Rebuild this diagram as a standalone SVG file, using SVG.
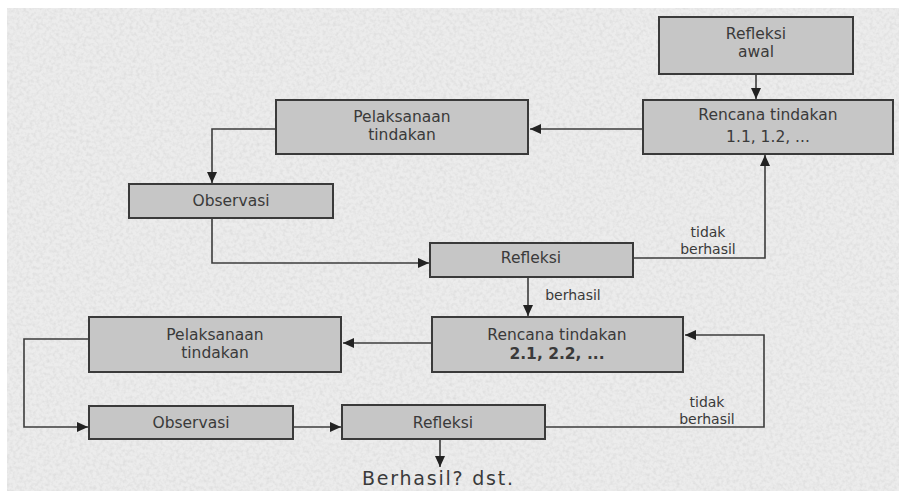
<svg xmlns="http://www.w3.org/2000/svg" width="899" height="491" viewBox="0 0 899 491">
<defs>
<filter id="noise" x="0" y="0" width="100%" height="100%">
<feTurbulence type="fractalNoise" baseFrequency="0.3" numOctaves="2" seed="7"/>
<feColorMatrix type="matrix" values="0 0 0 0 0.6  0 0 0 0 0.6  0 0 0 0 0.6  0.9 0 0 0 -0.35"/>
</filter>
<marker id="ah" markerUnits="userSpaceOnUse" markerWidth="12" markerHeight="10" refX="11" refY="5" orient="auto">
<path d="M0,0 L11,5 L0,10 Z" fill="#222"/>
</marker>
<style>
.box{fill:#c6c6c6;stroke:#3a3a3a;stroke-width:2}
.t{font-family:"DejaVu Sans",Verdana,sans-serif;font-size:15.5px;fill:#3a3a3a;text-anchor:middle}
.l{font-family:"DejaVu Sans",Verdana,sans-serif;font-size:14px;fill:#3a3a3a;text-anchor:middle}
.b{font-weight:bold}
.c{fill:none;stroke:#3c3c3c;stroke-width:1.6;marker-end:url(#ah)}
</style>
</defs>
<rect x="0" y="0" width="899" height="491" fill="#ffffff"/>
<rect x="7" y="8" width="892" height="483" fill="#ececec"/>
<rect x="7" y="8" width="892" height="483" filter="url(#noise)"/>

<g id="connectors">
<path class="c" d="M756 75 V99"/>
<path class="c" d="M643 129 H530"/>
<path class="c" d="M276 129 H212 V183"/>
<path class="c" d="M212 219 V263 H429"/>
<path class="c" d="M634 258 H765 V155"/>
<path class="c" d="M528 278 V316"/>
<path class="c" d="M431 343 H343"/>
<path class="c" d="M88 339 H24 V427 H88"/>
<path class="c" d="M294 427 H341"/>
<path class="c" d="M546 427 H764 V335 H685"/>
<path class="c" d="M440 440 V467"/>
<text class="l" x="708" y="237">tidak</text>
<text class="l" x="708" y="254">berhasil</text>
<text class="l" x="573" y="300">berhasil</text>
<text class="l" x="707" y="407">tidak</text>
<text class="l" x="707" y="424">berhasil</text>
</g>

<g id="refleksi-awal">
<rect class="box" x="659" y="17" width="194" height="57"/>
<text class="t" x="756" y="39">Refleksi</text>
<text class="t" x="756" y="57">awal</text>
</g>
<g id="rencana-1">
<rect class="box" x="643" y="100" width="250" height="54"/>
<text class="t" x="768" y="120">Rencana tindakan</text>
<text class="t" x="768" y="142">1.1, 1.2, ...</text>
</g>
<g id="pelaksanaan-1">
<rect class="box" x="276" y="100" width="252" height="54"/>
<text class="t" x="402" y="122">Pelaksanaan</text>
<text class="t" x="402" y="140">tindakan</text>
</g>
<g id="observasi-1">
<rect class="box" x="129" y="184" width="204" height="34"/>
<text class="t" x="231" y="206">Observasi</text>
</g>
<g id="refleksi-1">
<rect class="box" x="430" y="243" width="203" height="34"/>
<text class="t" x="531" y="263">Refleksi</text>
</g>
<g id="rencana-2">
<rect class="box" x="432" y="317" width="251" height="55"/>
<text class="t" x="557" y="340">Rencana tindakan</text>
<text class="t b" x="557" y="359">2.1, 2.2, ...</text>
</g>
<g id="pelaksanaan-2">
<rect class="box" x="89" y="317" width="252" height="55"/>
<text class="t" x="215" y="340">Pelaksanaan</text>
<text class="t" x="215" y="358">tindakan</text>
</g>
<g id="observasi-2">
<rect class="box" x="89" y="406" width="204" height="33"/>
<text class="t" x="191" y="428">Observasi</text>
</g>
<g id="refleksi-2">
<rect class="box" x="342" y="405" width="203" height="34"/>
<text class="t" x="443" y="428">Refleksi</text>
</g>
<g id="hasil">
<text x="362" y="485" font-family="'DejaVu Sans',Verdana,sans-serif" font-size="19" fill="#3a3a3a" textLength="151">Berhasil? dst.</text>
</g>
</svg>
